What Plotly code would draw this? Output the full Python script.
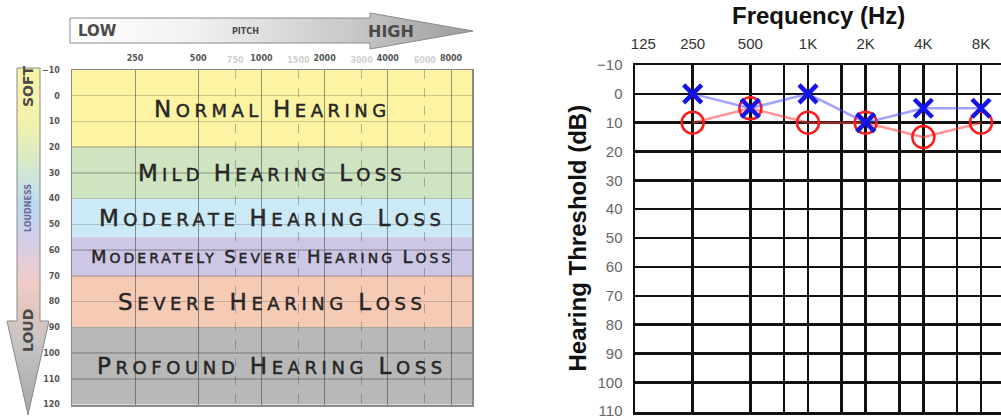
import math
import plotly.graph_objects as go

W, H = 1001, 416
L2 = math.log10(2)

# ---------------- Left panel: degree-of-hearing-loss chart ----------------
band_names = ["Normal Hearing", "Mild Hearing Loss", "Moderate Hearing Loss",
              "Moderately Severe Hearing Loss", "Severe Hearing Loss",
              "Profound Hearing Loss"]
band_top = [-10, 20, 40, 55, 70, 90]
band_bottom = [20, 40, 55, 70, 90, 120]
band_colors = ["#fcf4a3", "#cfe5c2", "#cbe9f6", "#cdc7e5", "#f6cbb6", "#b8b8b8"]
# style: (capital size, small-cap size, letter spacing)
band_text_style = [(23, 18, 4.5), (23, 18, 4.2), (23, 18, 4.5), (18, 14, 3.0),
                   (23, 18, 4.6), (23, 18, 4.6)]

chart_octave_freqs = [250, 500, 1000, 2000, 4000, 8000]
chart_octave_labels = ["250", "500", "1000", "2000", "4000", "8000"]
chart_mid_freqs = [125, 750, 1500, 3000, 6000]
chart_mid_labels = ["125", "750", "1500", "3000", "6000"]
chart_db_ticks = list(range(-10, 121, 10))

# ---------------- Right panel: audiogram ----------------
audio_title_x = "Frequency (Hz)"
audio_title_y = "Hearing Threshold (dB)"
audio_freqs = [250, 500, 1000, 2000, 4000, 8000]
right_ear_db = [10, 5, 10, 10, 15, 10]
left_ear_db = [0, 5, 0, 10, 5, 5]
audio_grid_freqs = [125, 250, 500, 750, 1000, 1500, 2000, 3000, 4000, 6000, 8000]
audio_grid_labels = ["\u00a0\u00a0\u00a0\u00a0125", "250", "500", "", "1K", "", "2K", "", "4K", "", "8K"]
audio_db_ticks = list(range(-10, 111, 10))

# pixel geometry helpers
x1_range = [math.log10(8000) - (451 - 72) / 63.2 * L2, math.log10(8000) + (472 - 451) / 63.2 * L2]
x2_range = [math.log10(125), math.log10(8000) + (W - 981) / 57.7 * L2]


def small_caps(text, big, small, ls):
    words = []
    for w in text.split(" "):
        words.append(f"<span style='font-size:{big}px'>{w[0].upper()}</span>"
                     f"<span style='font-size:{small}px'>{w[1:].upper()}</span>")
    inner = f"<span style='font-size:{small}px'> </span>".join(words)
    return (f"<span style='letter-spacing:{ls}px;stroke:#262626;stroke-width:0.45px'>"
            f"{inner}</span>")


fig = go.Figure()

# decorative arrows (pixel space axis x4/y4)
pitch_x = [70, 370, 370, 473, 370, 370, 70, 70]
pitch_y = [18, 18, 13, 31, 49, 43, 43, 18]
fig.add_trace(go.Scatter(
    x=pitch_x, y=pitch_y, xaxis="x4", yaxis="y4", mode="lines", fill="toself",
    line=dict(color="#8a8a8a", width=1),
    fillgradient=dict(type="horizontal",
                      colorscale=[[0, "#ffffff"], [0.3, "#f2f2f2"], [0.7, "#c8c8c8"], [1, "#9c9c9c"]]),
    hoverinfo="skip", showlegend=False))

loud_x = [17, 40, 40, 49, 28, 7, 17, 17]
loud_y = [68, 68, 321, 321, 415, 321, 321, 68]
fig.add_trace(go.Scatter(
    x=loud_x, y=loud_y, xaxis="x4", yaxis="y4", mode="lines", fill="toself",
    line=dict(color="#8a8a8a", width=1),
    fillgradient=dict(type="vertical", start=415, stop=68,
                      colorscale=[[0, "#a6a6a6"], [0.2, "#c4c4c4"], [0.3, "#dfc6bf"],
                                  [0.38, "#f1cdc6"], [0.5, "#d5cde8"], [0.6, "#bdd9f0"],
                                  [0.66, "#c8e2e2"], [0.74, "#d9ebc4"], [0.84, "#f3f1ab"],
                                  [1, "#f8f4a8"]]),
    hoverinfo="skip", showlegend=False))

# invisible anchor traces so the left-panel axes exist
fig.add_trace(go.Scatter(x=[1000], y=[50], xaxis="x", yaxis="y", mode="markers",
                         marker=dict(opacity=0), hoverinfo="skip", showlegend=False))
fig.add_trace(go.Scatter(x=[1000], y=[50], xaxis="x3", yaxis="y", mode="markers",
                         marker=dict(opacity=0), hoverinfo="skip", showlegend=False))

# audiogram traces
fig.add_trace(go.Scatter(
    x=audio_freqs, y=right_ear_db, xaxis="x2", yaxis="y2", mode="lines+markers",
    line=dict(color="rgba(255,60,60,0.55)", width=2.5),
    marker=dict(symbol="circle-open", size=22, color="#ff1a1a", line=dict(width=2.5, color="#ff1a1a")),
    hoverinfo="skip", showlegend=False))
fig.add_trace(go.Scatter(
    x=audio_freqs, y=left_ear_db, xaxis="x2", yaxis="y2", mode="lines+markers",
    line=dict(color="rgba(70,70,255,0.5)", width=2.5),
    marker=dict(symbol="x-thin", size=18, color="#1414e6", line=dict(width=4.5, color="#1414e6")),
    hoverinfo="skip", showlegend=False))

shapes = []
annotations = []
for name, top, bot, col, (big, small, ls) in zip(band_names, band_top, band_bottom,
                                                 band_colors, band_text_style):
    shapes.append(dict(type="rect", xref="x domain", x0=0, x1=1, yref="y", y0=top, y1=bot,
                       fillcolor=col, line=dict(width=0), layer="below"))
    annotations.append(dict(
        xref="x domain", x=0.5, yref="y", y=(top + bot) / 2, showarrow=False,
        text=small_caps(name, big, small, ls),
        font=dict(family="DejaVu Sans", size=big, color="#262626")))

deco_font = dict(family="DejaVu Sans", color="#4a4a4a", weight="bold")
right_font = "Liberation Sans, Arial, sans-serif"
title_font = dict(family=right_font, size=24, color="#111111", weight="bold")
annotations += [
    dict(xref="x4", yref="y4", x=97, y=31, text="LOW", showarrow=False, font=dict(deco_font, size=15)),
    dict(xref="x4", yref="y4", x=245, y=31, text="PITCH", showarrow=False, font=dict(deco_font, size=8)),
    dict(xref="x4", yref="y4", x=391, y=31, text="HIGH", showarrow=False, font=dict(deco_font, size=16)),
    dict(xref="x4", yref="y4", x=28, y=86, text="SOFT", textangle=-90, showarrow=False,
         font=dict(deco_font, size=14)),
    dict(xref="x4", yref="y4", x=28, y=208, text="LOUDNESS", textangle=-90, showarrow=False,
         font=dict(deco_font, size=8, color="#6a6a9a")),
    dict(xref="x4", yref="y4", x=28, y=331, text="LOUD", textangle=-90, showarrow=False,
         font=dict(deco_font, size=14)),
    # audiogram axis titles
    dict(xref="x2 domain", x=0.5, yref="y4", y=15, text=audio_title_x, showarrow=False,
         font=title_font),
    dict(xref="x4", x=577, yref="y2 domain", y=0.5, text=audio_title_y, textangle=-90,
         showarrow=False, font=title_font),
]
for a in annotations:
    a["xanchor"] = "center"
    a["yanchor"] = "middle"

left_tick_font = dict(family="DejaVu Sans", size=8, color="#555555", weight="bold")

fig.update_layout(
    template="none",
    width=W, height=H, autosize=False,
    margin=dict(l=0, r=0, t=0, b=0, pad=0),
    paper_bgcolor="white", plot_bgcolor="rgba(0,0,0,0)",
    showlegend=False, hovermode=False,
    shapes=shapes, annotations=annotations,
    xaxis=dict(type="log", domain=[72 / W, 472 / W], range=x1_range, anchor="y", side="top",
               tickmode="array", tickvals=chart_octave_freqs, ticktext=chart_octave_labels,
               tickfont=left_tick_font, ticks="", ticklabelstandoff=4,
               showgrid=True, gridcolor="rgba(50,50,50,0.5)", gridwidth=1,
               showline=True, linecolor="#8a8a8a", linewidth=1.5, mirror=True, zeroline=False),
    xaxis3=dict(type="log", range=x1_range, overlaying="x", anchor="y", side="top",
                domain=[72 / W, 472 / W],
                tickmode="array", tickvals=chart_mid_freqs, ticktext=chart_mid_labels,
                tickfont=dict(left_tick_font, color="#d0d0d0"), ticks="", ticklabelstandoff=4,
                showgrid=True, gridcolor="rgba(60,60,60,0.35)", gridwidth=1, griddash="dash",
                showline=False, zeroline=False),
    yaxis=dict(domain=[1 - 405 / H, 1 - 70 / H], range=[120.2, -10], anchor="x",
               tickmode="array", tickvals=chart_db_ticks, tickfont=left_tick_font,
               ticks="", ticklabelstandoff=9, ticklabeloverflow="allow",
               showgrid=True, gridcolor="rgba(40,40,40,0.22)", gridwidth=1.5,
               showline=True, linecolor="#8a8a8a", linewidth=1.5, mirror=True, zeroline=False),
    xaxis2=dict(type="log", domain=[635 / W, 1], range=x2_range, anchor="y2", side="top",
                tickmode="array", tickvals=audio_grid_freqs, ticktext=audio_grid_labels,
                tickfont=dict(family=right_font, size=15, color="#333333"), ticks="",
                ticklabelstandoff=8,
                showgrid=True, gridcolor="#111111", gridwidth=2.5,
                showline=True, linecolor="#111111", linewidth=2.5, mirror=True, zeroline=False),
    yaxis2=dict(domain=[1 - 412 / H, 1 - 65 / H], range=[110.3, -10], anchor="x2",
                tickmode="array", tickvals=audio_db_ticks,
                tickfont=dict(family=right_font, size=15, color="#666666"), ticks="",
                ticklabelstandoff=7, ticklabeloverflow="allow",
                showgrid=True, gridcolor="#111111", gridwidth=2.5,
                showline=True, linecolor="#111111", linewidth=2.5, mirror=True, zeroline=False),
    xaxis4=dict(domain=[0, 1], range=[0, W], visible=False, anchor="y4", fixedrange=True),
    yaxis4=dict(domain=[0, 1], range=[H, 0], visible=False, anchor="x4", fixedrange=True),
)

fig.write_html("out.html",
               config={"displayModeBar": False, "staticPlot": True},
               post_script="document.body.style.margin='0';document.body.style.padding='0';"
                           "document.body.style.overflow='hidden';")
